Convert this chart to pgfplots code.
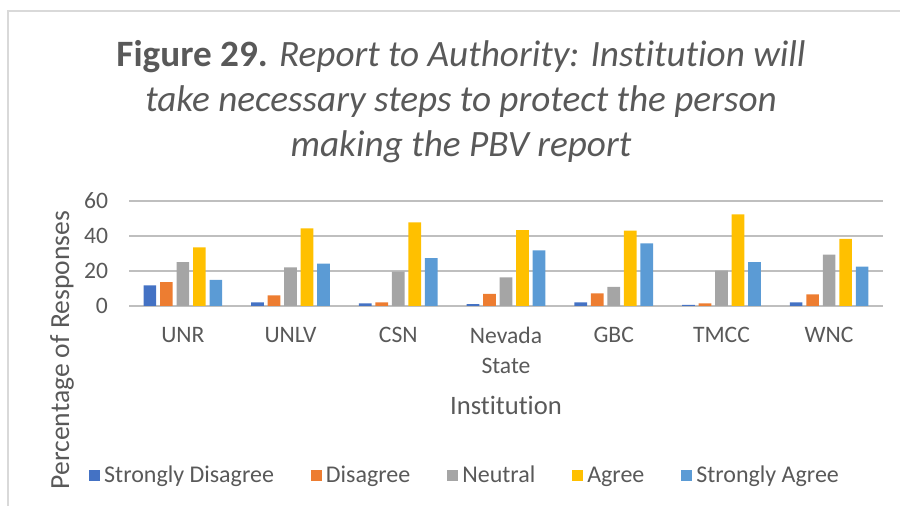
\documentclass[border=0pt]{standalone}
\usepackage{pgfplots}
\pgfplotsset{compat=1.18}
\usepackage{fontspec}
\setmainfont{Carlito}[Ligatures={NoCommon}]
\definecolor{txt}{HTML}{595959}
\definecolor{grid}{HTML}{D9D9D9}
\definecolor{cSD}{HTML}{4472C4}
\definecolor{cD}{HTML}{ED7D31}
\definecolor{cN}{HTML}{A5A5A5}
\definecolor{cA}{HTML}{FFC000}
\definecolor{cSA}{HTML}{5B9BD5}
\begin{document}
\begin{tikzpicture}
\useasboundingbox (0,0) rectangle (450bp,253bp);
\draw[grid, line width=0.75bp] (4bp,0) -- (4bp,247.5bp) -- (450bp,247.5bp);
\begin{axis}[
  at={(64.5bp,100bp)}, anchor=south west,
  scale only axis, width=377bp, height=52.5bp,
  ybar=1.9bp, bar width=6.35bp,
  xmin=-0.5, xmax=6.5, ymin=0, ymax=60,
  xtick={0,...,6},
  xticklabels={UNR,UNLV,CSN,{Nevada\\State},GBC,TMCC,WNC},
  ytick={0,20,40,60},
  xmajorgrids=false, ymajorgrids=true, grid style={grid, line width=0.75bp},
  axis line style={draw=none},
  major tick length=0pt,
  tick style={draw=none},
  tick label style={text=txt},
  every tick label/.append style={font=\fontsize{11.8bp}{15bp}\selectfont},
  /pgf/number format/assume math mode=true,
  xticklabel style={align=center, anchor=north, yshift=-7bp},
  yticklabel style={anchor=east, xshift=-7bp},
  ylabel={Percentage of Responses},
  ylabel style={at={(axis description cs:-0.0889,-0.42)}, anchor=center, font=\fontsize{13.8bp}{15bp}\selectfont, text=txt},
  xlabel={Institution},
  xlabel style={at={(axis description cs:0.5,-0.943)}, anchor=center, font=\fontsize{13.3bp}{15bp}\selectfont, text=txt},
  legend columns=5,
  legend style={at={(axis description cs:0.447,-1.619)}, anchor=center, draw=none, fill=none,
    font=\fontsize{12bp}{14bp}\selectfont, text=txt,
    /tikz/every even column/.append style={column sep=16.5bp}},
  legend image code/.code={\fill[#1] (0bp,-2.75bp) rectangle (5.5bp,2.75bp);},
]
\addplot[fill=cSD, draw=none] coordinates {(0,11.8) (1,2.1) (2,1.5) (3,1.0) (4,2.1) (5,0.6) (6,2.1)};
\addplot[fill=cD, draw=none] coordinates {(0,13.7) (1,6.1) (2,2.1) (3,6.9) (4,7.2) (5,1.5) (6,6.7)};
\addplot[fill=cN, draw=none] coordinates {(0,25.0) (1,22.1) (2,19.6) (3,16.4) (4,10.9) (5,20.2) (6,29.3)};
\addplot[fill=cA, draw=none] coordinates {(0,33.5) (1,44.4) (2,47.8) (3,43.4) (4,43.0) (5,52.4) (6,38.3)};
\addplot[fill=cSA, draw=none] coordinates {(0,14.9) (1,24.2) (2,27.4) (3,31.8) (4,35.8) (5,25.0) (6,22.5)};
\legend{Strongly Disagree,Disagree,Neutral,Agree,Strongly Agree}
\end{axis}
\begin{scope}[every node/.style={text=txt, font=\fontsize{18.6bp}{22.5bp}\selectfont, anchor=base}]
\node at (230.5bp,219.5bp) {\textbf{Figure 29.} \textit{Report to Authority: Institution will}};
\node at (230.5bp,197bp) {\textit{take necessary steps to protect the person}};
\node at (230.5bp,174.5bp) {\textit{making the PBV report}};
\end{scope}
\end{tikzpicture}
\end{document}
